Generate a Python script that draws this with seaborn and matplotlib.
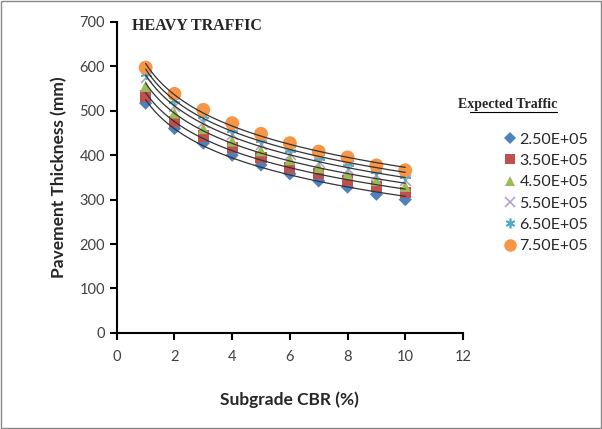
import numpy as np
import pandas as pd
import matplotlib
matplotlib.use("Agg")
import matplotlib.pyplot as plt
import seaborn as sns
from matplotlib.lines import Line2D
from matplotlib.patches import Rectangle

# données
cbr = [1, 2, 3, 4, 5, 6, 7, 8, 9, 10]
traffic = ['2.50E+05', '3.50E+05', '4.50E+05', '5.50E+05', '6.50E+05', '7.50E+05']
t_250 = [517, 460, 427, 400, 378, 358, 342, 328, 312, 300]
t_350 = [533, 476, 443, 417, 395, 373, 358, 343, 330, 316]
t_450 = [555, 495, 460, 432, 410, 390, 372, 357, 343, 330]
t_550 = [575, 510, 475, 447, 425, 403, 385, 370, 356, 345]
t_650 = [585, 525, 490, 460, 437, 415, 397, 382, 367, 355]
t_750 = [597, 538, 502, 472, 448, 427, 408, 395, 377, 366]
series = [t_250, t_350, t_450, t_550, t_650, t_750]

colors = ['#4F81BD', '#C0504D', '#9BBB59', '#B3A2C7', '#4BACC6', '#F79646']
markers = ['D', 's', '^', 'x', (6, 2, 0), 'o']
sizes = [45, 65, 65, 60, 60, 100]
is_line = [False, False, False, True, True, False]

df = pd.DataFrame({
    'cbr': np.tile(cbr, len(traffic)),
    'thk': np.concatenate(series),
    'traffic': np.repeat(traffic, len(cbr)),
})

sns.set_style('ticks')
plt.rcParams['font.family'] = ['Lato', 'DejaVu Sans']

fig = plt.figure(figsize=(6.02, 4.29), dpi=100)
ax = fig.add_axes([0.194, 0.224, 0.575, 0.725])

for i, t in enumerate(traffic):
    sub = df[df['traffic'] == t]
    sns.scatterplot(data=sub, x='cbr', y='thk', color=colors[i], marker=markers[i],
                    s=sizes[i], linewidth=1.2 if is_line[i] else 0,
                    edgecolor=colors[i] if is_line[i] else 'none',
                    ax=ax, zorder=3, legend=False)
    # courbe de tendance logarithmique (type Excel)
    a, b = np.polyfit(np.log(sub['cbr']), sub['thk'], 1)
    xx = np.linspace(1, 10, 100)
    ax.plot(xx, a * np.log(xx) + b, color='#333333', lw=0.9, zorder=4)

ax.set_xlim(0, 12)
ax.set_ylim(0, 700)
ax.set_xticks(range(0, 13, 2))
ax.set_yticks(range(0, 701, 100))
ax.tick_params(direction='out', length=5, width=1.5, labelsize=10.5, color='black',
               labelcolor='#404040')
ax.tick_params(axis='x', pad=7)
for s in ['left', 'bottom']:
    ax.spines[s].set_linewidth(1.5)
    ax.spines[s].set_color('black')
sns.despine(ax=ax)

ax.set_xlabel('Subgrade CBR (%)', fontsize=12.5, fontweight='bold', labelpad=20)
ax.set_ylabel('Pavement Thickness (mm)', fontsize=12.5, fontweight='bold', labelpad=9)

ax.text(0.045, 1.012, 'HEAVY TRAFFIC', transform=ax.transAxes, fontsize=11.5,
        fontweight='bold', family='Liberation Serif', va='top', ha='left')

# légende
handles = []
for i, t in enumerate(traffic):
    handles.append(Line2D([], [], ls='none', marker=markers[i], color=colors[i],
                          markersize=np.sqrt(sizes[i]) * 0.9,
                          markeredgewidth=1.2 if is_line[i] else 0, label=t))
fig.legend(handles=handles, loc='upper left', bbox_to_anchor=(0.815, 0.725), frameon=False,
           fontsize=11.5, handlelength=0.6, handletextpad=0.3, labelspacing=0.45)

fig.text(0.925, 0.748, 'Expected Traffic', fontsize=10, fontweight='bold',
         family='Liberation Serif', ha='right', va='baseline')
fig.add_artist(Line2D([0.781, 0.925], [0.739, 0.739], transform=fig.transFigure,
                      color='black', lw=0.8))

fig.add_artist(Rectangle((0.002, 0.003), 0.996, 0.994, transform=fig.transFigure,
                         fill=False, edgecolor='#888888', lw=1))

fig.savefig('out.png', dpi=100)
